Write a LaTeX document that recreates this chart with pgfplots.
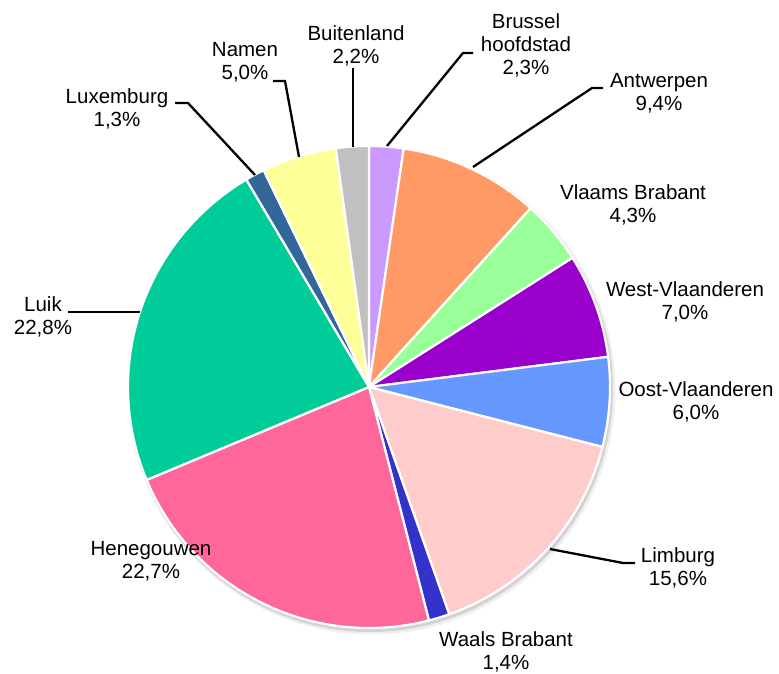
\documentclass[border=0pt]{standalone}
\usepackage{pgfplots}
\pgfplotsset{compat=1.18}
\usepackage{fontspec}
\setmainfont{Liberation Sans}
\definecolor{cBru}{HTML}{CC99FF}
\definecolor{cAnt}{HTML}{FF9966}
\definecolor{cVBr}{HTML}{99FF99}
\definecolor{cWVl}{HTML}{9900CC}
\definecolor{cOVl}{HTML}{6699FF}
\definecolor{cLim}{HTML}{FFCCCC}
\definecolor{cWBr}{HTML}{3333CC}
\definecolor{cHen}{HTML}{FF6699}
\definecolor{cLui}{HTML}{00CC99}
\definecolor{cLux}{HTML}{336699}
\definecolor{cNam}{HTML}{FFFF99}
\definecolor{cBui}{HTML}{C0C0C0}
\tikzset{lab/.style={font=\fontsize{20.5}{23}\selectfont, align=center, inner sep=0pt},
  lead/.style={black, solid, line width=2.3pt}}
\gdef\cum{0}
\newcommand{\slice}[2]{%
  \pgfmathsetmacro\sA{90-3.6*\cum}%
  \pgfmathsetmacro\sB{90-3.6*(\cum+#1)}%
  \pgfmathsetmacro\sC{\cum+#1}\xdef\cum{\sC}%
  \addplot[fill=#2, draw=white, line width=2.2pt, line join=round, domain=\sB:\sA, samples=70, variable=\t]
    ({241*cos(\t)},{241*sin(\t)}) -- (0,0) -- cycle;
}
\begin{document}
\begin{tikzpicture}
\begin{axis}[scale only axis, width=779pt, height=673pt,
  xmin=-369, xmax=410, ymin=-286, ymax=387, hide axis, clip=false]
\path (-369,-286) rectangle (410,387);
\fill[black, opacity=0.12] (1.5,-2.5) circle[radius=242.5];
\fill[black, opacity=0.06] (2.5,-3.5) circle[radius=244];
\slice{2.3}{cBru}
\slice{9.4}{cAnt}
\slice{4.3}{cVBr}
\slice{7.0}{cWVl}
\slice{6.0}{cOVl}
\slice{15.6}{cLim}
\slice{1.4}{cWBr}
\slice{22.7}{cHen}
\slice{22.8}{cLui}
\slice{1.3}{cLux}
\slice{5.0}{cNam}
\slice{2.2}{cBui}
% leader lines
\addplot[lead] coordinates {(-16,319) (-16,240)};
\addplot[lead] coordinates {(104,334) (94,334) (18,241)};
\addplot[lead] coordinates {(234,299) (223,299) (104,220)};
\addplot[lead] coordinates {(-96,306) (-84,306) (-70,230)};
\addplot[lead] coordinates {(-194,284) (-181,284) (-114,212)};
\addplot[lead] coordinates {(-301,75) (-229,75)};
\addplot[lead] coordinates {(266,-176) (254,-176) (181,-162)};
% labels
\node[lab] at (-13,341) {Buitenland\\2,2\%};
\node[lab] at (157,342) {Brussel\\hoofdstad\\2,3\%};
\node[lab] at (290,294) {Antwerpen\\9,4\%};
\node[lab] at (264,182) {Vlaams Brabant\\4,3\%};
\node[lab] at (316,85) {West-Vlaanderen\\7,0\%};
\node[lab] at (327,-15) {Oost-Vlaanderen\\6,0\%};
\node[lab] at (309,-181) {Limburg\\15,6\%};
\node[lab] at (137,-265) {Waals Brabant\\1,4\%};
\node[lab] at (-218,-174) {Henegouwen\\22,7\%};
\node[lab] at (-326,70) {Luik\\22,8\%};
\node[lab] at (-252,278) {Luxemburg\\1,3\%};
\node[lab] at (-124,325) {Namen\\5,0\%};
\end{axis}
\end{tikzpicture}
\end{document}
